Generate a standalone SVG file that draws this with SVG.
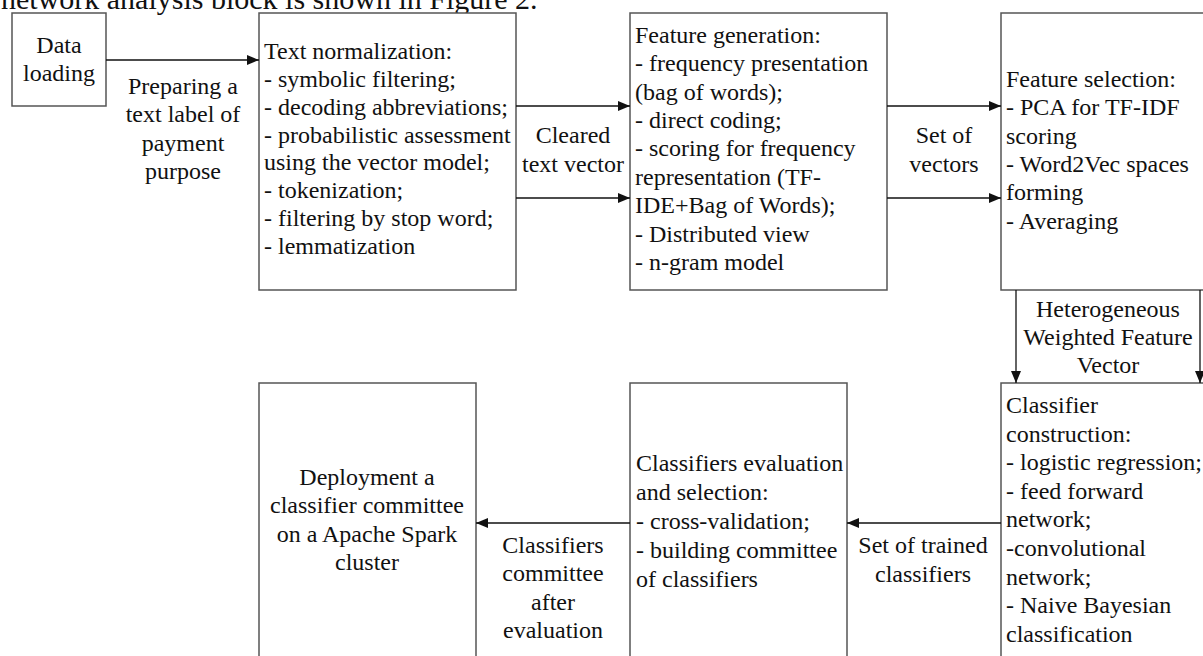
<svg xmlns="http://www.w3.org/2000/svg" width="1203" height="656" viewBox="0 0 1203 656">
<style>
text{font-family:"Liberation Serif","Times New Roman",serif;font-size:24px;fill:#111}
.c{text-anchor:middle}
.box{fill:#fff;stroke:#555;stroke-width:1.5}
.edge{fill:none;stroke:#111;stroke-width:1.3}
.top{font-size:30px}
</style>
<defs>
<marker id="ah" markerUnits="userSpaceOnUse" markerWidth="13" markerHeight="11" refX="12" refY="5" orient="auto">
<path d="M0,0 L12,5 L0,10 z" fill="#111"/>
</marker>
</defs>
<rect width="1203" height="656" fill="#fff"/>
<text class="top" x="1" y="9">network analysis block is shown in Figure 2.</text>

<g id="n-data-loading">
<rect class="box" x="12" y="13" width="94" height="93"/>
<text class="c" x="59" y="53">Data</text>
<text class="c" x="59" y="81">loading</text>
</g>

<g id="n-text-normalization">
<rect class="box" x="259" y="13" width="257" height="277"/>
<text x="264" y="59">Text normalization:</text>
<text x="264" y="87">- symbolic filtering;</text>
<text x="264" y="115">- decoding abbreviations;</text>
<text x="264" y="143">- probabilistic assessment</text>
<text x="264" y="170">using the vector model;</text>
<text x="264" y="198">- tokenization;</text>
<text x="264" y="226">- filtering by stop word;</text>
<text x="264" y="254">- lemmatization</text>
</g>

<g id="n-feature-generation">
<rect class="box" x="630" y="13" width="257" height="277"/>
<text x="635" y="43">Feature generation:</text>
<text x="635" y="71">- frequency presentation</text>
<text x="635" y="100">(bag of words);</text>
<text x="635" y="128">- direct coding;</text>
<text x="635" y="156">- scoring for frequency</text>
<text x="635" y="185">representation (TF-</text>
<text x="635" y="213">IDE+Bag of Words);</text>
<text x="635" y="242">- Distributed view</text>
<text x="635" y="270">- n-gram model</text>
</g>

<g id="n-feature-selection">
<rect class="box" x="1001" y="13" width="215" height="277"/>
<text x="1006" y="87">Feature selection:</text>
<text x="1006" y="115">- PCA for TF-IDF</text>
<text x="1006" y="144">scoring</text>
<text x="1006" y="172">- Word2Vec spaces</text>
<text x="1006" y="200">forming</text>
<text x="1006" y="229">- Averaging</text>
</g>

<g id="n-classifier-construction">
<rect class="box" x="1001" y="383" width="215" height="290"/>
<text x="1006" y="413">Classifier</text>
<text x="1006" y="442">construction:</text>
<text x="1006" y="470">- logistic regression;</text>
<text x="1006" y="499">- feed forward</text>
<text x="1006" y="527">network;</text>
<text x="1006" y="556">-convolutional</text>
<text x="1006" y="585">network;</text>
<text x="1006" y="613">- Naive Bayesian</text>
<text x="1006" y="642">classification</text>
</g>

<g id="n-classifiers-evaluation">
<rect class="box" x="630" y="383" width="217" height="290"/>
<text x="636" y="471">Classifiers evaluation</text>
<text x="636" y="500">and selection:</text>
<text x="636" y="529">- cross-validation;</text>
<text x="636" y="558">- building committee</text>
<text x="636" y="587">of classifiers</text>
</g>

<g id="n-deployment">
<rect class="box" x="259" y="383" width="217" height="290"/>
<text class="c" x="367" y="485">Deployment a</text>
<text class="c" x="367" y="513">classifier committee</text>
<text class="c" x="367" y="542">on a Apache Spark</text>
<text class="c" x="367" y="570">cluster</text>
</g>

<g id="connectors">
<path class="edge" d="M106,60 H259" marker-end="url(#ah)"/>
<path class="edge" d="M516,106 H630" marker-end="url(#ah)"/>
<path class="edge" d="M516,198 H630" marker-end="url(#ah)"/>
<path class="edge" d="M887,106 H1001" marker-end="url(#ah)"/>
<path class="edge" d="M887,198 H1001" marker-end="url(#ah)"/>
<path class="edge" d="M1016,290 V383" marker-end="url(#ah)"/>
<path class="edge" d="M1200,290 V383" marker-end="url(#ah)"/>
<path class="edge" d="M1001,523 H847" marker-end="url(#ah)"/>
<path class="edge" d="M630,523 H476" marker-end="url(#ah)"/>
<text class="c" x="183" y="94">Preparing a</text>
<text class="c" x="183" y="122">text label of</text>
<text class="c" x="183" y="151">payment</text>
<text class="c" x="183" y="179">purpose</text>
<text class="c" x="573" y="143">Cleared</text>
<text class="c" x="573" y="172">text vector</text>
<text class="c" x="944" y="143">Set of</text>
<text class="c" x="944" y="172">vectors</text>
<text class="c" x="1108" y="317">Heterogeneous</text>
<text class="c" x="1108" y="345">Weighted Feature</text>
<text class="c" x="1108" y="373">Vector</text>
<text class="c" x="923" y="553">Set of trained</text>
<text class="c" x="923" y="582">classifiers</text>
<text class="c" x="553" y="553">Classifiers</text>
<text class="c" x="553" y="581">committee</text>
<text class="c" x="553" y="610">after</text>
<text class="c" x="553" y="638">evaluation</text>
</g>
</svg>
